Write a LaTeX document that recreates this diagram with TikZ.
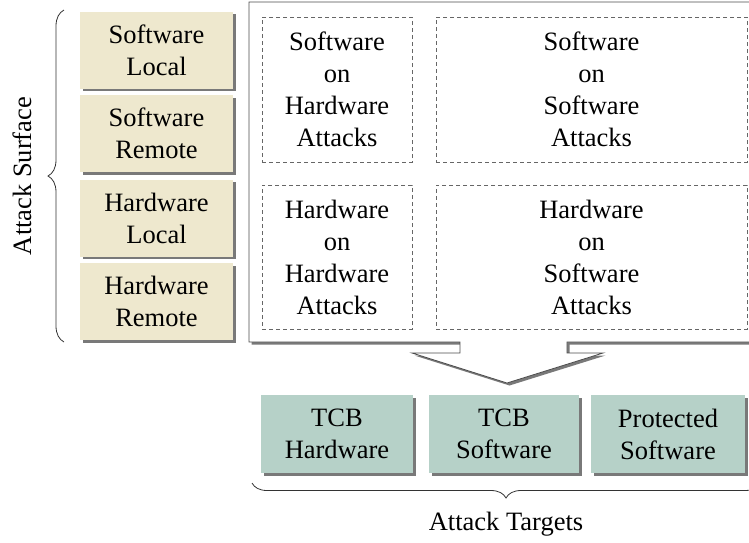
\documentclass[tikz,border=0pt]{standalone}
\usepackage{fontspec}
\setmainfont{Liberation Serif}
\usetikzlibrary{shadows,decorations.pathreplacing}
\definecolor{surfbg}{RGB}{238,232,206}
\definecolor{targbg}{RGB}{182,209,200}
\newcommand{\bt}{\fontsize{26.5}{32}\selectfont}

\begin{document}
\begin{tikzpicture}[x=1pt,y=-1pt,
   shade/.style={drop shadow={shadow xshift=2.5pt,shadow yshift=-2.5pt,opacity=.7,fill=black!75}},
   surfbox/.style={shade,fill=surfbg,minimum width=153pt,minimum height=77pt,align=center,font=\bt},
   targbox/.style={shade,fill=targbg,minimum height=78pt,align=center,font=\bt},
   atkbox/.style={draw=black!60,dashed,dash pattern=on 4pt off 3pt,line width=.7pt,align=center,font=\bt}]
   \clip (0,0) rectangle (749,542);
   % big box with the arrow below it
   \filldraw[shade,fill=white,draw=black!70,line width=.8pt] (249,2) -- (770,2) -- (770,342)
      -- (567,342) -- (567,353) -- (603,353) -- (507,383) -- (412,353) -- (460,353) -- (460,342)
      -- (249,342) -- cycle;
   % attack surface
   \node[surfbox] (sl) at (156.5,50) {Software\\Local};
   \node[surfbox] (sr) at (156.5,133.5) {Software\\Remote};
   \node[surfbox] (hl) at (156.5,218) {Hardware\\Local};
   \node[surfbox] (hr) at (156.5,301.5) {Hardware\\Remote};
   % attacks
   \node[atkbox,minimum width=150pt,minimum height=145pt] (swhw) at (337,89.5) {Software\\on\\Hardware\\Attacks};
   \node[atkbox,minimum width=311pt,minimum height=145pt] (swsw) at (591.5,89.5) {Software\\on\\Software\\Attacks};
   \node[atkbox,minimum width=150pt,minimum height=144pt] (hwhw) at (337,257) {Hardware\\on\\Hardware\\Attacks};
   \node[atkbox,minimum width=311pt,minimum height=144pt] (hwsw) at (591.5,257) {Hardware\\on\\Software\\Attacks};
   % attack targets
   \node[targbox,minimum width=152pt] (tcbhw) at (337,434) {TCB\\Hardware};
   \node[targbox,minimum width=150pt] (tcbsw) at (504,434) {TCB\\Software};
   \node[targbox,minimum width=154pt] (prot) at (668,434) {Protected\\Software};
   % braces
   \coordinate (lt) at (64,10);
   \coordinate (lb) at (64,342);
   \coordinate (bl) at (252,483);
   \coordinate (br) at (760,483);
   \draw[black!80,line width=.8pt,decorate,decoration={brace,amplitude=16pt}] (lb) -- (lt);
   \draw[black!80,line width=.8pt,decorate,decoration={brace,amplitude=15pt}] (br) -- (bl);
   \node[rotate=90,font=\bt] (surf) at (22,176) {Attack Surface};
   \node[font=\bt] (targ) at (506,524) {Attack Targets};
\end{tikzpicture}
\end{document}
